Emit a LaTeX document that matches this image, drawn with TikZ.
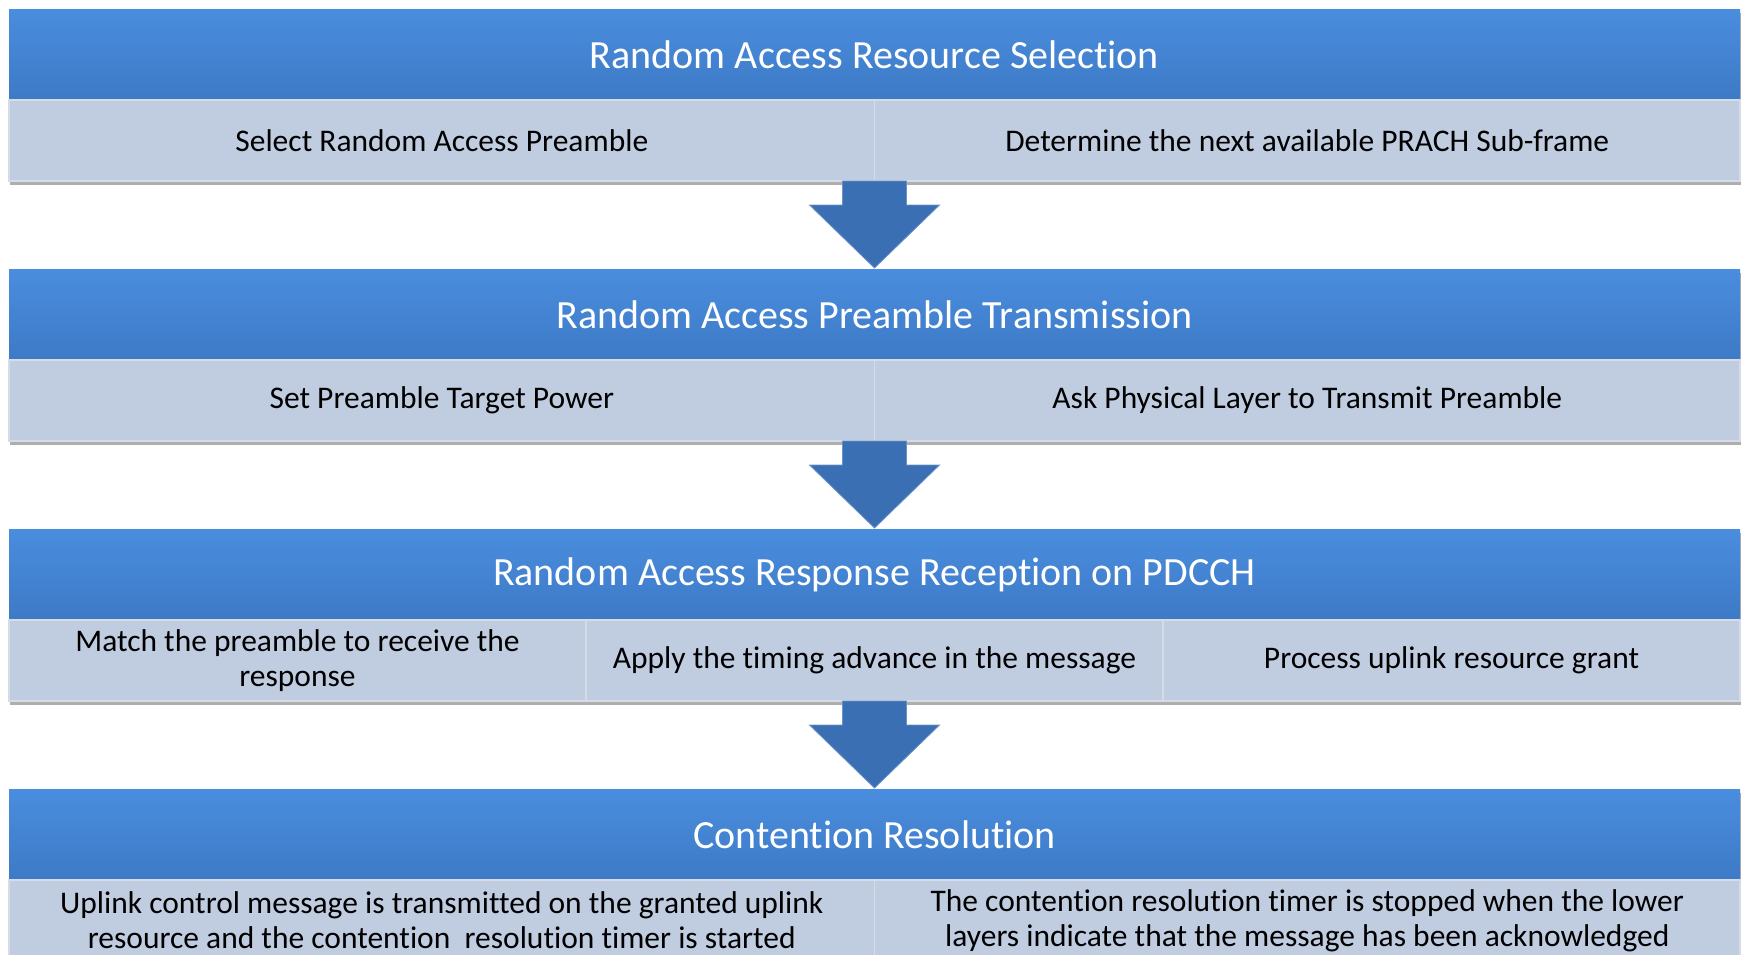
\documentclass[tikz,border=0pt]{standalone}
\usepackage{fontspec}
\setmainfont{Carlito}[Ligatures={NoCommon}]
\usepackage{tikz}
\usetikzlibrary{positioning,shadows}

\definecolor{headtop}{HTML}{4A8DDE}
\definecolor{headbot}{HTML}{3D7AC6}
\definecolor{cellgray}{HTML}{C0CCE0}
\definecolor{celledge}{HTML}{D5DCE8}
\definecolor{arrowblue}{HTML}{3B6FB3}

\tikzset{
  head/.style={rectangle, top color=headtop, bottom color=headbot,
    minimum width=1731pt, minimum height=91pt, inner sep=0pt, outer sep=0pt,
    text=white, font=\fontsize{40}{46}\selectfont},
  cell/.style={rectangle, fill=cellgray, draw=celledge, line width=1.2pt,
    minimum height=81pt, inner sep=0pt, outer sep=0pt, align=center,
    font=\fontsize{31.5}{35}\selectfont},
  half/.style={cell, minimum width=865.5pt},
  third/.style={cell, minimum width=577pt},
  bandback/.style={fill=cellgray, draw=none,
    drop shadow={shadow xshift=1pt, shadow yshift=-4pt, opacity=0.45, fill=black!70}},
  downarrow/.style={fill=arrowblue, draw=arrowblue!75!white, line width=0.8pt, line join=miter},
}

\begin{document}
\begin{tikzpicture}[x=1pt,y=-1pt]
  \useasboundingbox (0,0) rectangle (1742,954);

  % band backgrounds with shadow
  \path[bandback] (9,9) rectangle (1740,181);
  \path[bandback] (9,269) rectangle (1740,441);
  \path[bandback] (9,529) rectangle (1740,701);
  \path[bandback] (9,789) rectangle (1740,961);

  % step 1
  \node[head, anchor=north west] (h1) at (9,9) {Random Access Resource Selection};
  \node[half, anchor=north west] (s1a) at (h1.south west) {Select Random Access Preamble};
  \node[half, right=0pt of s1a] (s1b) {Determine the next available PRACH Sub-frame};

  % step 2
  \node[head, anchor=north west] (h2) at (9,269) {Random Access Preamble Transmission};
  \node[half, anchor=north west] (s2a) at (h2.south west) {Set Preamble Target Power};
  \node[half, right=0pt of s2a] (s2b) {Ask Physical Layer to Transmit Preamble};

  % step 3
  \node[head, anchor=north west] (h3) at (9,529) {Random Access Response Reception on PDCCH};
  \node[third, anchor=north west] (s3a) at (h3.south west) {Match the preamble to receive the\\response};
  \node[third, right=0pt of s3a] (s3b) {Apply the timing advance in the message};
  \node[third, right=0pt of s3b] (s3c) {Process uplink resource grant};

  % step 4
  \node[head, anchor=north west] (h4) at (9,789) {Contention Resolution};
  \node[half, anchor=north west] (s4a) at (h4.south west) {Uplink control message is transmitted on the granted uplink\\resource and the contention~ resolution timer is started};
  \node[half, right=0pt of s4a] (s4b) {The contention resolution timer is stopped when the lower\\layers indicate that the message has been acknowledged};

  % arrows between steps
  \draw[downarrow] (s1a.south east) ++(-32,0) -- ++(0,24) -- ++(-33,0) -- ++(65,63) -- ++(65,-63) -- ++(-33,0) -- ++(0,-24) -- cycle;
  \draw[downarrow] (s2a.south east) ++(-32,0) -- ++(0,24) -- ++(-33,0) -- ++(65,63) -- ++(65,-63) -- ++(-33,0) -- ++(0,-24) -- cycle;
  \draw[downarrow] (s3b.south) ++(-32,0) -- ++(0,24) -- ++(-33,0) -- ++(65,63) -- ++(65,-63) -- ++(-33,0) -- ++(0,-24) -- cycle;
\end{tikzpicture}
\end{document}
